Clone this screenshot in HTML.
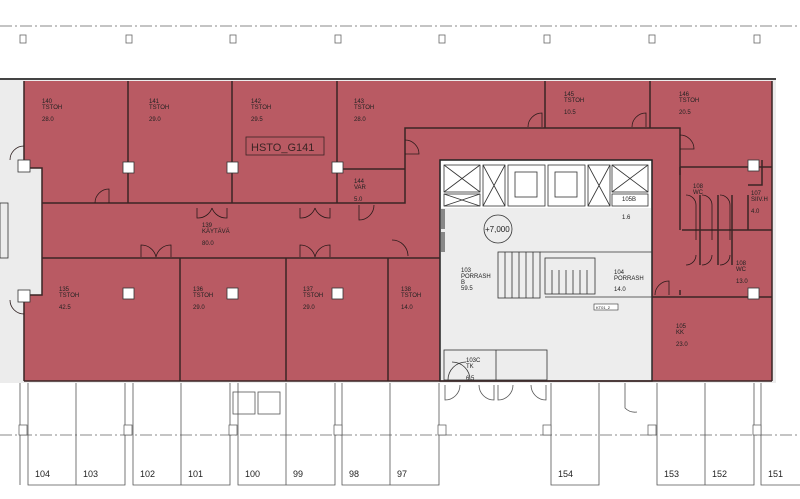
<!DOCTYPE html>
<html><head><meta charset="utf-8"><style>
html,body{margin:0;padding:0;background:#fff;width:800px;height:499px;overflow:hidden}
svg{display:block}
text{font-family:"Liberation Sans",sans-serif;fill:#222}
.s{font-size:6px}
</style></head><body>
<svg width="800" height="499" viewBox="0 0 800 499" xmlns="http://www.w3.org/2000/svg">
<!-- top grid line -->
<line x1="0" y1="26" x2="800" y2="26" stroke="#888" stroke-width="1" stroke-dasharray="12,3,2,3"/>
<g fill="#fff" stroke="#666" stroke-width="0.8">
<rect x="20" y="35" width="6" height="8"/><rect x="126" y="35" width="6" height="8"/><rect x="230" y="35" width="6" height="8"/><rect x="335" y="35" width="6" height="8"/><rect x="439" y="35" width="6" height="8"/><rect x="544" y="35" width="6" height="8"/><rect x="649" y="35" width="6" height="8"/><rect x="754" y="35" width="6" height="8"/>
</g>
<!-- outer -->
<rect x="0" y="78" width="776" height="305" fill="#ececec"/>
<line x1="0" y1="79" x2="776" y2="79" stroke="#444" stroke-width="2"/>
<!-- red area -->
<path d="M24 81 H772 V381 H24 V295 H42 V168 H24 Z" fill="#b95a63"/>
<!-- core -->
<rect x="440" y="160" width="212" height="221" fill="#ededed" stroke="#222" stroke-width="1.5"/>
<rect x="441" y="161" width="210" height="47" fill="#fff"/>
<g stroke="#333" stroke-width="0.8" fill="none">
<rect x="444" y="165" width="36" height="27"/><path d="M444 165 L480 192 M480 165 L444 192"/>
<rect x="444" y="194" width="36" height="12"/><path d="M444 194 L480 206 M480 194 L444 206"/>
<rect x="483" y="165" width="22" height="41"/><path d="M483 165 L505 206 M505 165 L483 206"/>
<rect x="508" y="165" width="37" height="41"/><rect x="515" y="172" width="22" height="25"/>
<rect x="548" y="165" width="37" height="41"/><rect x="555" y="172" width="22" height="25"/>
<rect x="588" y="165" width="22" height="41"/><path d="M588 165 L610 206 M610 165 L588 206"/>
<rect x="612" y="165" width="36" height="27"/><path d="M612 165 L648 192 M648 165 L612 192"/>
<rect x="612" y="194" width="36" height="12"/>
<circle cx="498" cy="229" r="14"/>
<!-- stairs -->
<rect x="498" y="252" width="42" height="46"/>
<rect x="545" y="258" width="50" height="36"/>
<path d="M505 252v46M512 252v46M519 252v46M526 252v46M533 252v46M552 270v24M559 270v24M566 270v24M573 270v24M580 270v24M587 270v24"/>
<path d="M540 252 H652 M545 297 H652 V380"/>
<rect x="444" y="350" width="103" height="30"/><path d="M496 350v30"/>
<path d="M448 380 a18 18 0 0 1 18 -18 M470 380 a18 18 0 0 0 -18 -18"/>
</g>
<text x="485" y="232" font-size="8">+7,000</text>
<text class="s" x="461" y="272">103</text><text class="s" x="461" y="278">PORRASH</text><text class="s" x="461" y="284">B</text><text class="s" x="461" y="290">59.5</text>
<text class="s" x="614" y="274">104</text><text class="s" x="614" y="280">PORRASH</text><text class="s" x="614" y="291">14.0</text>
<rect x="594" y="304" width="24" height="6" fill="#fff" stroke="#333" stroke-width="0.6"/><text x="596" y="309" font-size="4">KT01_2</text>
<text class="s" x="466" y="362">103C</text><text class="s" x="466" y="368">TK</text><text class="s" x="466" y="380">6.5</text>
<text class="s" x="622" y="201">105B</text><text class="s" x="622" y="219">1.6</text>
<g fill="#888"><rect x="441" y="209" width="4" height="20"/><rect x="441" y="232" width="4" height="20"/></g>
<!-- walls -->
<g stroke="#3a2424" stroke-width="1.5" fill="none">
<path d="M24 81 V168 H42 V295 H24 V381"/>
<path d="M128 81 V203 M232 81 V203 M337 81 V203"/>
<path d="M42 203 H405 V128 H680 V175"/>
<path d="M337 169 H405"/>
<path d="M545 81 V128 M650 81 V128"/>
<path d="M42 258 H440"/>
<path d="M180 258 V381 M286 258 V381 M388 258 V381"/>
<path d="M680 167 V230 M682 230 H772 M680 290 V295 M652 297 H772"/>
<path d="M772 81 V381 M24 381 H772"/>
<path d="M718 195 V265 M732 195 V265 M748 195 V230 M700 195 V265"/>
<path d="M748 185 H762 V160 M680 167 H772"/>
</g>
<!-- doors -->
<g stroke="#2a1a1a" stroke-width="0.8" fill="none">
<path d="M95 203 a14 14 0 0 1 14 -14 V203"/>
<path d="M197 208 v10 a15 15 0 0 0 15 -10 M227 208 v10 a15 15 0 0 1 -15 -10"/>
<path d="M300 208 v10 a15 15 0 0 0 15 -10 M330 208 v10 a15 15 0 0 1 -15 -10"/>
<path d="M359 205 v15 a15 15 0 0 0 15 -15"/>
<path d="M141 257 v-12 a15 15 0 0 1 15 12 M171 257 v-12 a15 15 0 0 0 -15 12"/>
<path d="M300 257 v-12 a15 15 0 0 1 15 12 M330 257 v-12 a15 15 0 0 0 -15 12"/>
<path d="M392 240 a16 16 0 0 1 16 16"/>
<path d="M405 140 a14 14 0 0 1 14 14 H405"/>
<path d="M528 127 a14 14 0 0 1 14 -14 V127"/>
<path d="M632 127 a14 14 0 0 1 14 -14 V127"/>
<path d="M680 135 a14 14 0 0 1 14 14 H680"/>
<path d="M655 295 a14 14 0 0 1 14 -14 V295"/>
<path d="M686 195 a10 10 0 0 1 10 10 V240 M702 195 a10 10 0 0 1 10 10 V240 M720 195 a10 10 0 0 1 10 10 V240"/>
<path d="M686 265 a10 10 0 0 0 10 -10 M702 265 a10 10 0 0 0 10 -10 M720 265 a10 10 0 0 0 10 -10"/>
<path d="M10 160 a14 14 0 0 1 14 -14 M10 300 a14 14 0 0 0 14 14"/>
</g>
<!-- columns -->
<g fill="#fff" stroke="#333" stroke-width="0.8">
<rect x="123" y="162" width="11" height="11"/><rect x="227" y="162" width="11" height="11"/><rect x="332" y="162" width="11" height="11"/>
<rect x="123" y="288" width="11" height="11"/><rect x="227" y="288" width="11" height="11"/><rect x="332" y="288" width="11" height="11"/>
<rect x="748" y="160" width="11" height="11"/><rect x="748" y="288" width="11" height="11"/>
<rect x="18" y="160" width="12" height="12"/><rect x="18" y="290" width="12" height="12"/>
<rect x="0" y="203" width="8" height="55" fill="none"/>
</g>
<rect x="246" y="137" width="78" height="18" fill="none" stroke="#3a2424" stroke-width="0.8"/>
<text x="251" y="151" font-size="11" fill="#3a2424" style="fill:#3a2424">HSTO_G141</text>
<!-- labels -->
<g class="s">
<text class="s" x="42" y="103">140</text><text class="s" x="42" y="109">TSTOH</text><text class="s" x="42" y="121">28.0</text>
<text class="s" x="149" y="103">141</text><text class="s" x="149" y="109">TSTOH</text><text class="s" x="149" y="121">29.0</text>
<text class="s" x="251" y="103">142</text><text class="s" x="251" y="109">TSTOH</text><text class="s" x="251" y="121">29.5</text>
<text class="s" x="354" y="103">143</text><text class="s" x="354" y="109">TSTOH</text><text class="s" x="354" y="121">28.0</text>
<text class="s" x="354" y="183">144</text><text class="s" x="354" y="189">VAR</text><text class="s" x="354" y="201">5.0</text>
<text class="s" x="564" y="96">145</text><text class="s" x="564" y="102">TSTOH</text><text class="s" x="564" y="114">10.5</text>
<text class="s" x="679" y="96">146</text><text class="s" x="679" y="102">TSTOH</text><text class="s" x="679" y="114">20.5</text>
<text class="s" x="202" y="227">139</text><text class="s" x="202" y="233">KÄYTÄVÄ</text><text class="s" x="202" y="245">80.0</text>
<text class="s" x="59" y="291">135</text><text class="s" x="59" y="297">TSTOH</text><text class="s" x="59" y="309">42.5</text>
<text class="s" x="193" y="291">136</text><text class="s" x="193" y="297">TSTOH</text><text class="s" x="193" y="309">29.0</text>
<text class="s" x="303" y="291">137</text><text class="s" x="303" y="297">TSTOH</text><text class="s" x="303" y="309">29.0</text>
<text class="s" x="401" y="291">138</text><text class="s" x="401" y="297">TSTOH</text><text class="s" x="401" y="309">14.0</text>
<text class="s" x="693" y="188">108</text><text class="s" x="693" y="194">WC</text>
<text class="s" x="751" y="195">107</text><text class="s" x="751" y="201">SIIV.H</text><text class="s" x="751" y="213">4.0</text>
<text class="s" x="736" y="265">108</text><text class="s" x="736" y="271">WC</text><text class="s" x="736" y="283">13.0</text>
<text class="s" x="676" y="328">105</text><text class="s" x="676" y="334">KK</text><text class="s" x="676" y="346">23.0</text>
</g>
<!-- bottom stalls -->
<line x1="0" y1="435" x2="800" y2="435" stroke="#888" stroke-width="1" stroke-dasharray="12,3,2,3"/>
<g stroke="#555" stroke-width="0.8" fill="none">
<path d="M20 383V485M28 383V485H125V383M76 383V485M133 383V485H230V383M181 383V485M238 383V485H335V383M286 383V485M342 383V485H439V383M390 383V485M551 383V485H599V383M657 383V485H754V383M705 383V485M761 383V485H800"/>
<rect x="233" y="392" width="22" height="22"/><rect x="258" y="392" width="22" height="22"/>
<path d="M445 385 v15 a15 15 0 0 0 15 -15 M494 385 v15 a15 15 0 0 1 -15 -15 M498 385 v15 a15 15 0 0 0 15 -15 M546 385 v15 a15 15 0 0 1 -15 -15"/>
<path d="M625 383 v25 a14 14 0 0 0 12 4"/>
</g>
<g fill="#fff" stroke="#555" stroke-width="0.7">
<rect x="19" y="425" width="8" height="10"/><rect x="124" y="425" width="8" height="10"/><rect x="229" y="425" width="8" height="10"/><rect x="334" y="425" width="8" height="10"/><rect x="438" y="425" width="8" height="10"/><rect x="543" y="425" width="8" height="10"/><rect x="648" y="425" width="8" height="10"/><rect x="753" y="425" width="8" height="10"/>
</g>
<g font-size="9">
<text x="35" y="477">104</text><text x="83" y="477">103</text><text x="140" y="477">102</text><text x="188" y="477">101</text><text x="245" y="477">100</text><text x="293" y="477">99</text><text x="349" y="477">98</text><text x="397" y="477">97</text><text x="558" y="477">154</text><text x="664" y="477">153</text><text x="712" y="477">152</text><text x="768" y="477">151</text>
</g>
</svg>
</body></html>
